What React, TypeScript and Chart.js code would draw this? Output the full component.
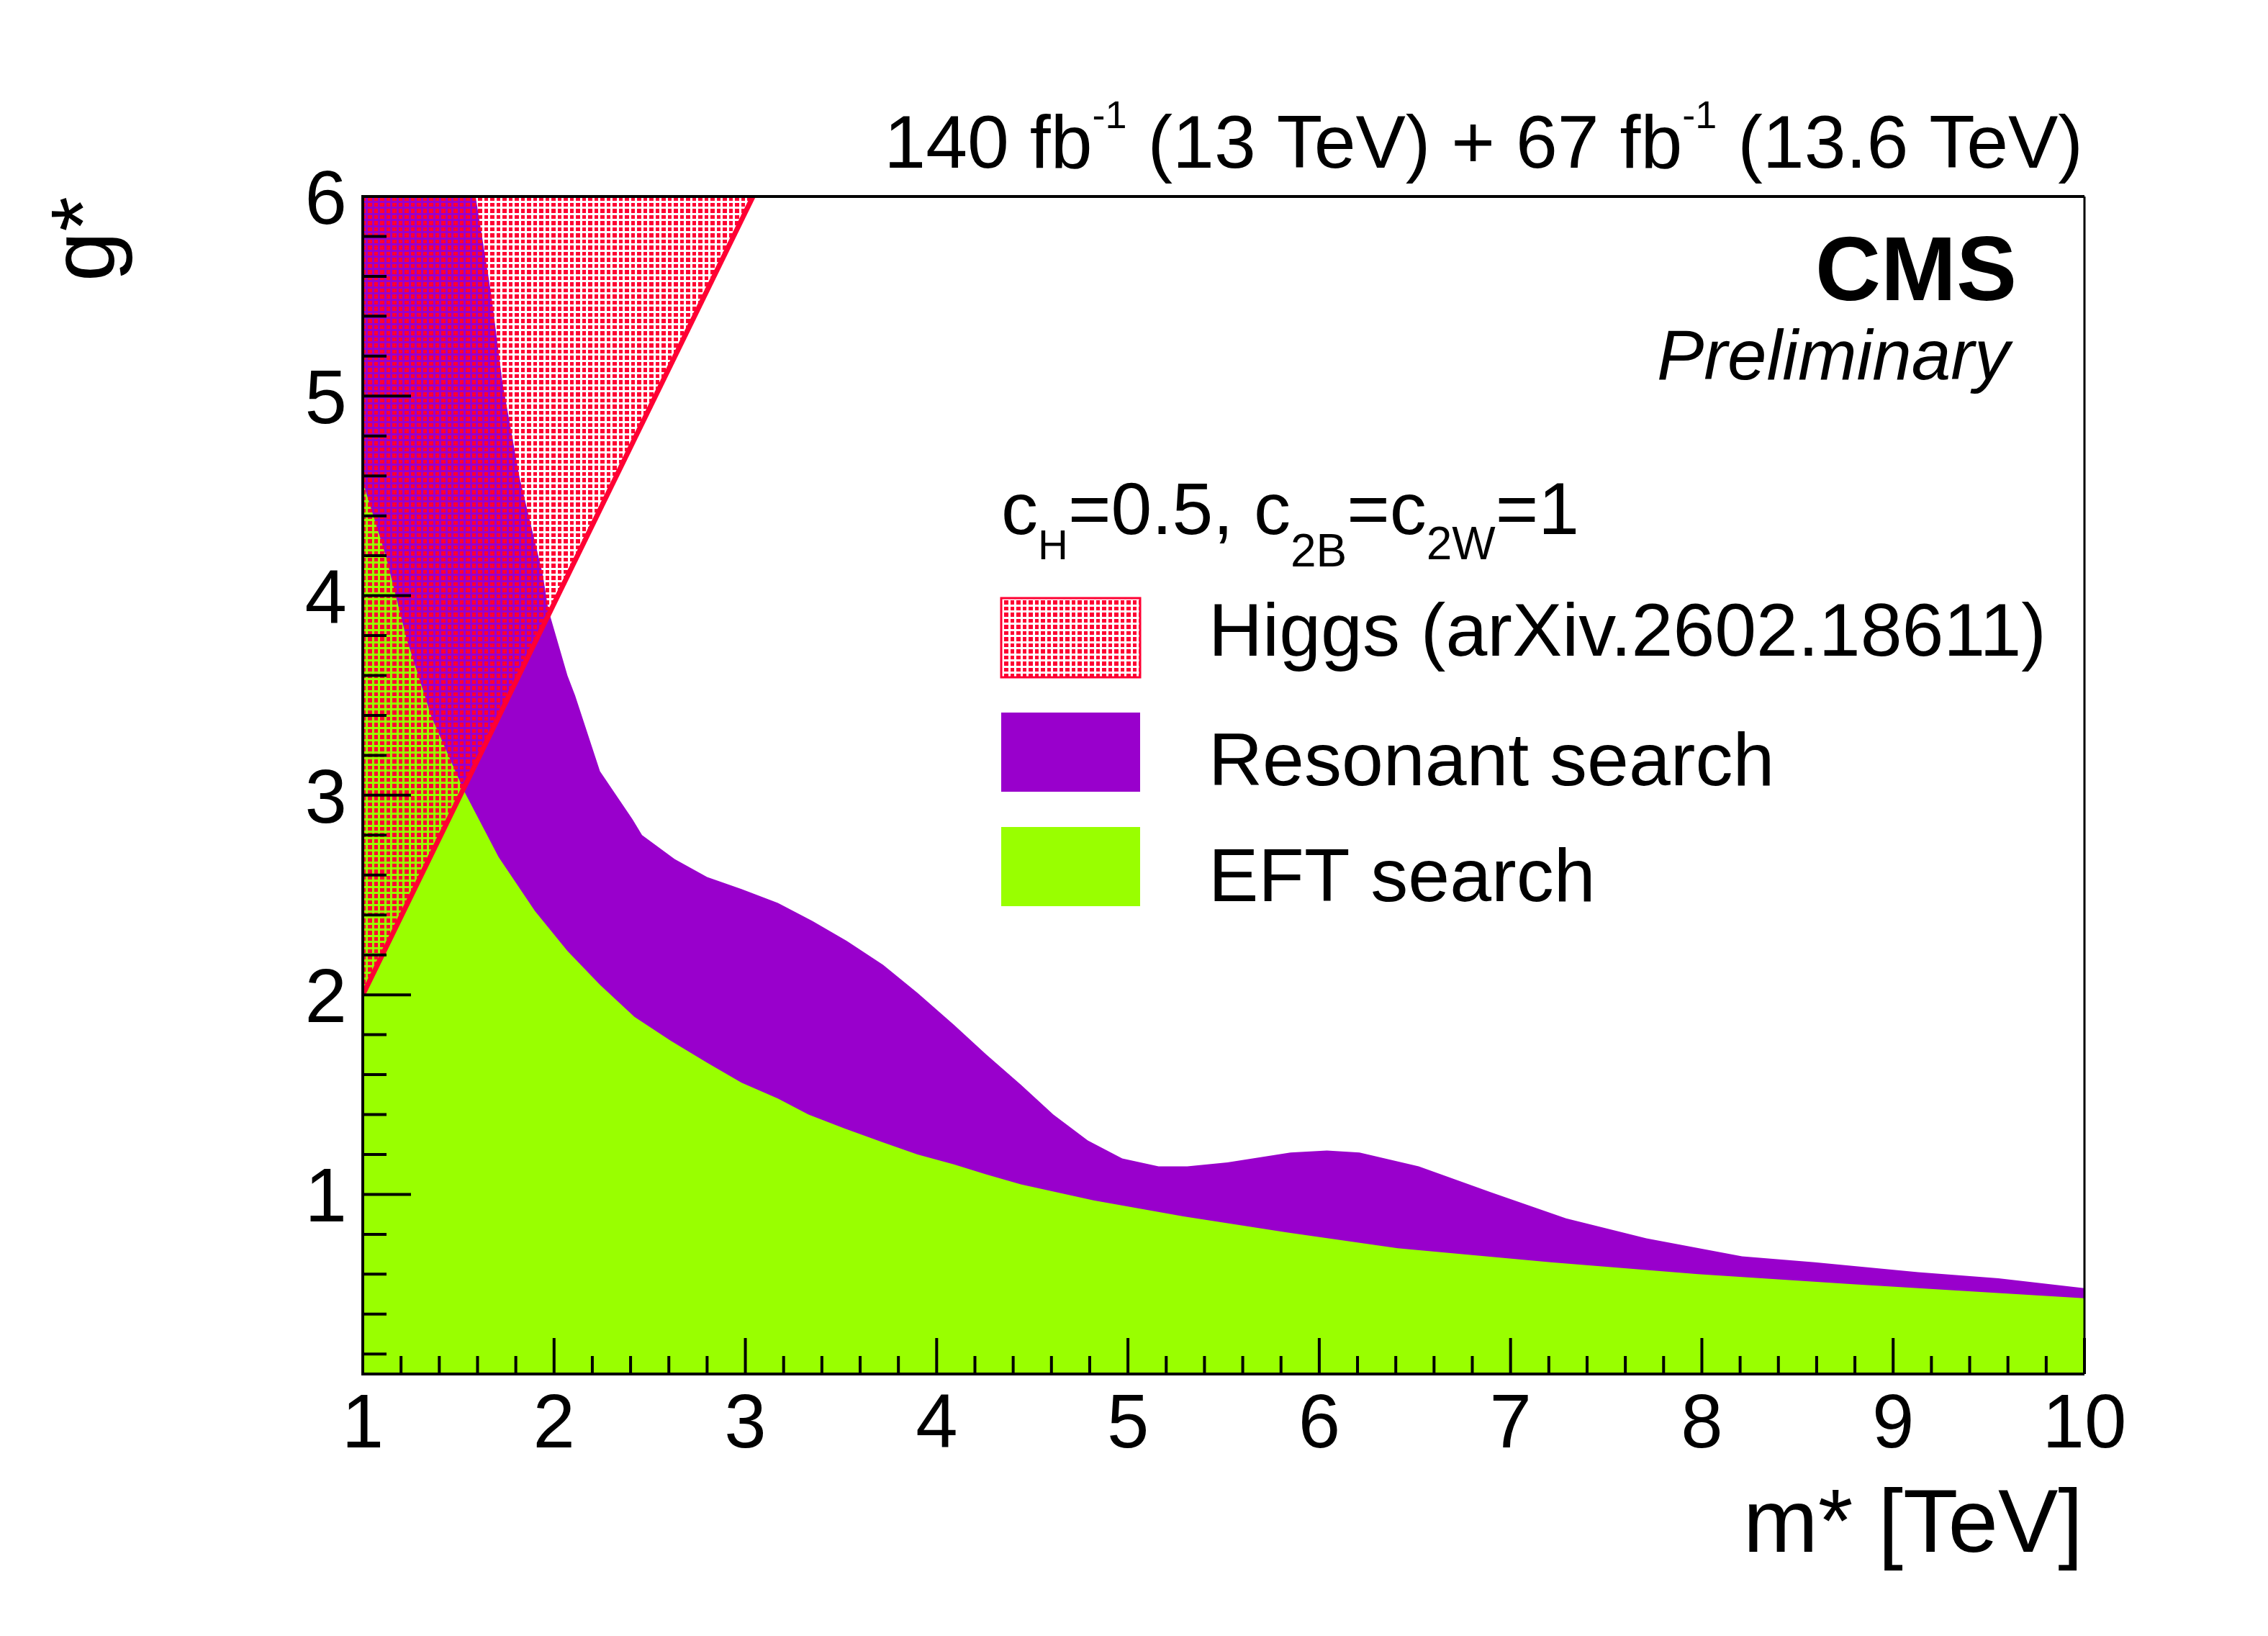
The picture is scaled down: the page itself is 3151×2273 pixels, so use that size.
import { useEffect, useRef } from "react"
import { Chart, registerables } from "chart.js"

Chart.register(...registerables)

// resonant search exclusion, upper edge (m* in TeV, g*)
const resMass = [
  1.0, 1.59, 1.67, 1.73, 1.82, 1.94, 1.97, 2.07, 2.11, 2.24, 2.41, 2.46, 2.63, 2.8, 2.98, 3.17, 3.35, 3.53,
  3.72, 3.9, 4.09, 4.26, 4.44, 4.61, 4.79, 4.97, 5.16, 5.31, 5.52, 5.85, 6.04, 6.21, 6.52, 6.9, 7.29,
  7.71, 8.21, 8.59, 9.13, 9.55, 10.0,
]
const resG = [
  6.0, 6.0, 5.52, 5.07, 4.59, 4.11, 3.93, 3.6, 3.5, 3.12, 2.88, 2.8, 2.68, 2.59, 2.53, 2.46, 2.37, 2.27,
  2.15, 2.01, 1.85, 1.7, 1.55, 1.4, 1.27, 1.18, 1.14, 1.14, 1.16, 1.21, 1.22, 1.21, 1.14, 1.01, 0.88,
  0.78, 0.69, 0.66, 0.61, 0.58, 0.53,
]

// EFT search exclusion
const eftMass = [
  1.0, 1.12, 1.23, 1.36, 1.53, 1.71, 1.9, 2.07, 2.24, 2.42, 2.61, 2.8, 2.98, 3.17, 3.33, 3.52, 3.72, 3.9,
  4.09, 4.26, 4.44, 4.82, 5.29, 5.83, 6.41, 7.21, 7.98, 8.79, 10.0,
]
const eftG = [
  4.57, 4.2, 3.78, 3.39, 3.02, 2.69, 2.42, 2.22, 2.05, 1.89, 1.77, 1.66, 1.56, 1.48, 1.4, 1.33, 1.26, 1.2,
  1.15, 1.1, 1.05, 0.97, 0.89, 0.81, 0.73, 0.66, 0.6, 0.55, 0.48,
]

// Higgs couplings bound
const higgsMass = [1.0, 3.04]
const higgsG = [2.0, 6.0]

const xTickLabels = [1, 2, 3, 4, 5, 6, 7, 8, 9, 10]
const yTickLabels = [1, 2, 3, 4, 5, 6]

const legendLabels = ["Higgs (arXiv.2602.18611)", "Resonant search", "EFT search"]

const PURPLE = "#9900cc"
const GREEN = "#99ff00"
const RED = "#ff0033"
const FONT = '"Liberation Sans", Arial, Helvetica, sans-serif'

type Part = { t: string; size: number; dy: number }

function drawRich(ctx: CanvasRenderingContext2D, parts: Part[], x: number, y: number, align: "left" | "right") {
  ctx.textAlign = "left"
  ctx.textBaseline = "alphabetic"
  let total = 0
  for (const p of parts) {
    ctx.font = `${p.size}px ${FONT}`
    total += ctx.measureText(p.t).width
  }
  let cx = align === "right" ? x - total : x
  for (const p of parts) {
    ctx.font = `${p.size}px ${FONT}`
    ctx.fillText(p.t, cx, y + p.dy)
    cx += ctx.measureText(p.t).width
  }
}

export default function App() {
  const canvasRef = useRef<HTMLCanvasElement>(null)
  const chartRef = useRef<Chart | null>(null)

  useEffect(() => {
    if (!canvasRef.current) return
    if (chartRef.current) chartRef.current.destroy()
    const ctx = canvasRef.current.getContext("2d")
    if (!ctx) return

    // dotted hatch like ROOT fill style
    const tile = document.createElement("canvas")
    tile.width = 17
    tile.height = 17
    const tc = tile.getContext("2d")!
    tc.fillStyle = RED
    tc.fillRect(1, 1, 6, 6)
    tc.fillRect(10, 1, 5, 6)
    tc.fillRect(1, 10, 6, 5)
    tc.fillRect(10, 10, 5, 5)
    const hatch = ctx.createPattern(tile, "repeat")!

    const decor = {
      id: "decor",
      afterDraw(chart: Chart) {
        const c = chart.ctx
        const { left, right, top, bottom } = chart.chartArea
        const xs = chart.scales.x
        const ys = chart.scales.y
        c.save()
        c.strokeStyle = "#000"
        c.fillStyle = "#000"

        // ticks (inward)
        c.lineWidth = 4
        c.beginPath()
        for (let i = 0; i <= 45; i++) {
          const v = 1 + i * 0.2
          const px = xs.getPixelForValue(v)
          const len = i % 5 === 0 ? 50 : 25
          c.moveTo(px, bottom)
          c.lineTo(px, bottom - len)
        }
        for (let i = 1; i <= 30; i++) {
          const v = i * 0.2
          const py = ys.getPixelForValue(v)
          const len = i % 5 === 0 ? 67 : 33
          c.moveTo(left, py)
          c.lineTo(left + len, py)
        }
        c.stroke()

        // frame
        c.lineWidth = 4
        c.beginPath()
        c.moveTo(right, top)
        c.lineTo(left, top)
        c.lineTo(left, bottom)
        c.lineTo(right, bottom)
        c.stroke()
        c.lineWidth = 3
        c.beginPath()
        c.moveTo(right, top)
        c.lineTo(right, bottom)
        c.stroke()

        // tick labels
        c.font = `105px ${FONT}`
        c.textBaseline = "alphabetic"
        c.textAlign = "center"
        for (const v of xTickLabels) c.fillText(String(v), xs.getPixelForValue(v), 2011)
        c.textAlign = "right"
        for (const v of yTickLabels) c.fillText(String(v), 482, ys.getPixelForValue(v) + 38)

        // axis titles
        c.font = `125px ${FONT}`
        c.textAlign = "right"
        c.fillText("m* [TeV]", 2894, 2156)
        c.save()
        c.translate(158, 273)
        c.rotate(-Math.PI / 2)
        c.fillText("g*", 0, 0)
        c.restore()

        // lumi label
        drawRich(
          c,
          [
            { t: "140 fb", size: 104, dy: 0 },
            { t: "-1", size: 54, dy: -55 },
            { t: " (13 TeV) + 67 fb", size: 104, dy: 0 },
            { t: "-1", size: 54, dy: -55 },
            { t: " (13.6 TeV)", size: 104, dy: 0 },
          ],
          2894,
          233,
          "right"
        )

        // CMS label
        c.textAlign = "right"
        c.font = `bold 126px ${FONT}`
        c.fillText("CMS", 2802, 417)
        c.font = `italic 98px ${FONT}`
        c.fillText("Preliminary", 2792, 527)

        // legend header
        drawRich(
          c,
          [
            { t: "c", size: 102, dy: 0 },
            { t: "H", size: 58, dy: 35 },
            { t: "=0.5, c", size: 102, dy: 0 },
            { t: "2B", size: 64, dy: 45 },
            { t: "=c", size: 102, dy: 0 },
            { t: "2W", size: 64, dy: 35 },
            { t: "=1", size: 102, dy: 0 },
          ],
          1391,
          742,
          "left"
        )

        // legend entries
        const boxX = 1391
        const boxW = 193
        const boxH = 110
        const rowTop = [831, 990, 1149]
        const fills = [hatch, PURPLE, GREEN]
        const baselines = [911, 1091, 1252]
        for (let i = 0; i < 3; i++) {
          c.fillStyle = fills[i] as any
          c.fillRect(boxX, rowTop[i], boxW, boxH)
          if (i === 0) {
            c.strokeStyle = RED
            c.lineWidth = 3
            c.strokeRect(boxX, rowTop[i], boxW, boxH)
          }
          c.fillStyle = "#000"
          c.font = `104px ${FONT}`
          c.textAlign = "left"
          c.fillText(legendLabels[i], 1679, baselines[i])
        }
        c.restore()
      },
    }

    chartRef.current = new Chart(ctx, {
      type: "line",
      data: {
        datasets: [
          {
            label: legendLabels[0],
            data: higgsMass.map((m, i) => ({ x: m, y: higgsG[i] })),
            borderColor: RED,
            borderWidth: 7,
            backgroundColor: hatch,
            fill: "end",
            pointRadius: 0,
            tension: 0,
            order: 0,
          },
          {
            label: legendLabels[2],
            data: eftMass.map((m, i) => ({ x: m, y: eftG[i] })),
            borderWidth: 0,
            borderColor: GREEN,
            backgroundColor: GREEN,
            fill: "start",
            pointRadius: 0,
            tension: 0,
            order: 1,
          },
          {
            label: legendLabels[1],
            data: resMass.map((m, i) => ({ x: m, y: resG[i] })),
            borderWidth: 0,
            borderColor: PURPLE,
            backgroundColor: PURPLE,
            fill: "start",
            pointRadius: 0,
            tension: 0,
            order: 2,
          },
        ],
      },
      options: {
        responsive: false,
        animation: false,
        devicePixelRatio: 1,
        layout: { padding: { left: 504, right: 3151 - 2896, top: 273, bottom: 2273 - 1909 } },
        scales: {
          x: { type: "linear", min: 1, max: 10, display: false },
          y: { type: "linear", min: 0.1, max: 6, display: false },
        },
        plugins: {
          legend: { display: false },
          tooltip: { enabled: false },
        },
      },
      plugins: [decor],
    })

    return () => {
      if (chartRef.current) {
        chartRef.current.destroy()
        chartRef.current = null
      }
    }
  }, [])

  return (
    <div style={{ position: "absolute", left: 0, top: 0, width: 3151, height: 2273, background: "#fff" }}>
      <canvas ref={canvasRef} width={3151} height={2273} style={{ width: 3151, height: 2273 }} />
    </div>
  )
}
